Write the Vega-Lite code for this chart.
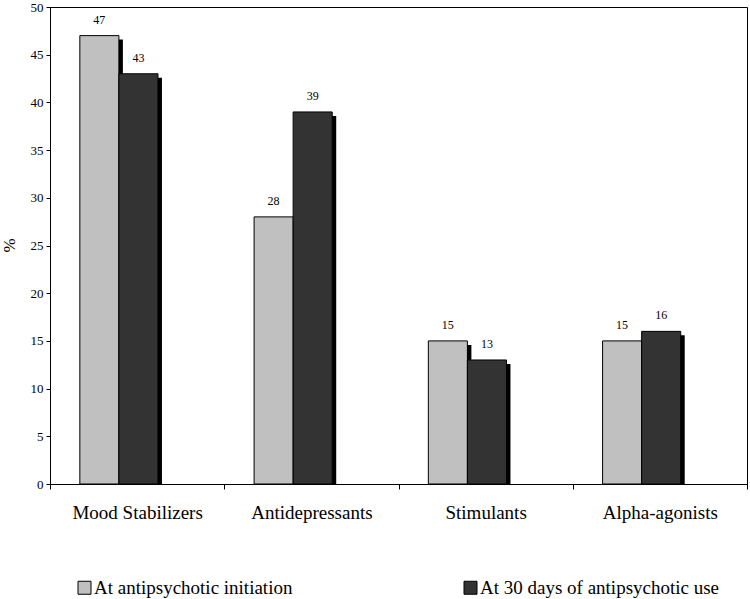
{
  "$schema": "https://vega.github.io/schema/vega-lite/v6.json",
  "width": 697,
  "height": 477,
  "autosize": {"type": "none"},
  "padding": {"left": 50, "top": 7, "right": 3, "bottom": 115},
  "background": "white",
  "config": {
    "view": {"stroke": "black", "strokeWidth": 1},
    "font": "Liberation Serif",
    "axis": {"labelFont": "Liberation Serif", "titleFont": "Liberation Serif", "labelColor": "black", "titleColor": "black", "domainColor": "black", "tickColor": "black", "grid": false}
  },
  "data": {
    "values": [
      {"cat": "Mood Stabilizers", "series": "At antipsychotic initiation", "value": 47},
      {"cat": "Mood Stabilizers", "series": "At 30 days of antipsychotic use", "value": 43},
      {"cat": "Antidepressants", "series": "At antipsychotic initiation", "value": 28},
      {"cat": "Antidepressants", "series": "At 30 days of antipsychotic use", "value": 39},
      {"cat": "Stimulants", "series": "At antipsychotic initiation", "value": 15},
      {"cat": "Stimulants", "series": "At 30 days of antipsychotic use", "value": 13},
      {"cat": "Alpha-agonists", "series": "At antipsychotic initiation", "value": 15},
      {"cat": "Alpha-agonists", "series": "At 30 days of antipsychotic use", "value": 16}
    ]
  },
  "encoding": {
    "x": {
      "field": "cat", "type": "nominal", "sort": null,
      "scale": {"domain": ["Mood Stabilizers", "Antidepressants", "Stimulants", "Alpha-agonists"], "paddingInner": 0, "paddingOuter": 0},
      "axis": {"title": null, "labelAngle": 0, "labelFontSize": 19, "tickBand": "extent", "tickSize": 5, "labelPadding": 14}
    },
    "y": {
      "field": "value", "type": "quantitative",
      "scale": {"domain": [0, 50], "nice": false},
      "axis": {"title": "%", "values": [0, 5, 10, 15, 20, 25, 30, 35, 40, 45, 50], "labelFontSize": 13, "tickSize": 4, "labelPadding": 3, "titleFontSize": 17, "titleFontWeight": "normal", "titleAngle": -90, "titleX": -41, "titleY": 238, "titleBaseline": "middle"}
    }
  },
  "layer": [
    {
      "mark": {"type": "bar", "color": "black", "yOffset": 4, "y2Offset": 0},
      "encoding": {
        "xOffset": {
          "field": "series", "type": "nominal", "sort": null,
          "scale": {"type": "band", "domain": ["At antipsychotic initiation", "At 30 days of antipsychotic use", "gap"], "paddingInner": 0, "paddingOuter": 0.73, "align": 0.593}
        },
        "y2": {"datum": 0}
      }
    },
    {
      "mark": {"type": "bar", "stroke": "black", "strokeWidth": 1},
      "encoding": {
        "xOffset": {
          "field": "series", "type": "nominal", "sort": null,
          "scale": {"type": "band", "domain": ["At antipsychotic initiation", "At 30 days of antipsychotic use", "gap"], "paddingInner": 0, "paddingOuter": 0.73, "align": 0.523}
        },
        "color": {
          "field": "series", "type": "nominal", "sort": null,
          "scale": {"domain": ["At antipsychotic initiation", "At 30 days of antipsychotic use"], "range": ["#c0c0c0", "#333333"]},
          "legend": {"title": null, "orient": "none", "legendX": 25, "legendY": 571, "direction": "horizontal", "columns": 2, "columnPadding": 168, "padding": 0, "symbolType": "square", "symbolSize": 169, "symbolStrokeColor": "black", "symbolStrokeWidth": 1, "labelFont": "Liberation Serif", "labelFontSize": 19, "labelColor": "black", "labelOffset": 0, "labelLimit": 400}
        }
      }
    },
    {
      "mark": {"type": "text", "baseline": "bottom", "dy": -9, "fontSize": 12, "font": "Liberation Serif", "color": "black"},
      "encoding": {
        "xOffset": {
          "field": "series", "type": "nominal", "sort": null, "bandPosition": 0.5,
          "scale": {"type": "band", "domain": ["At antipsychotic initiation", "At 30 days of antipsychotic use", "gap"], "paddingInner": 0, "paddingOuter": 0.73, "align": 0.523}
        },
        "text": {"field": "value", "type": "quantitative"}
      }
    }
  ],
  "resolve": {"scale": {"xOffset": "independent"}}
}
